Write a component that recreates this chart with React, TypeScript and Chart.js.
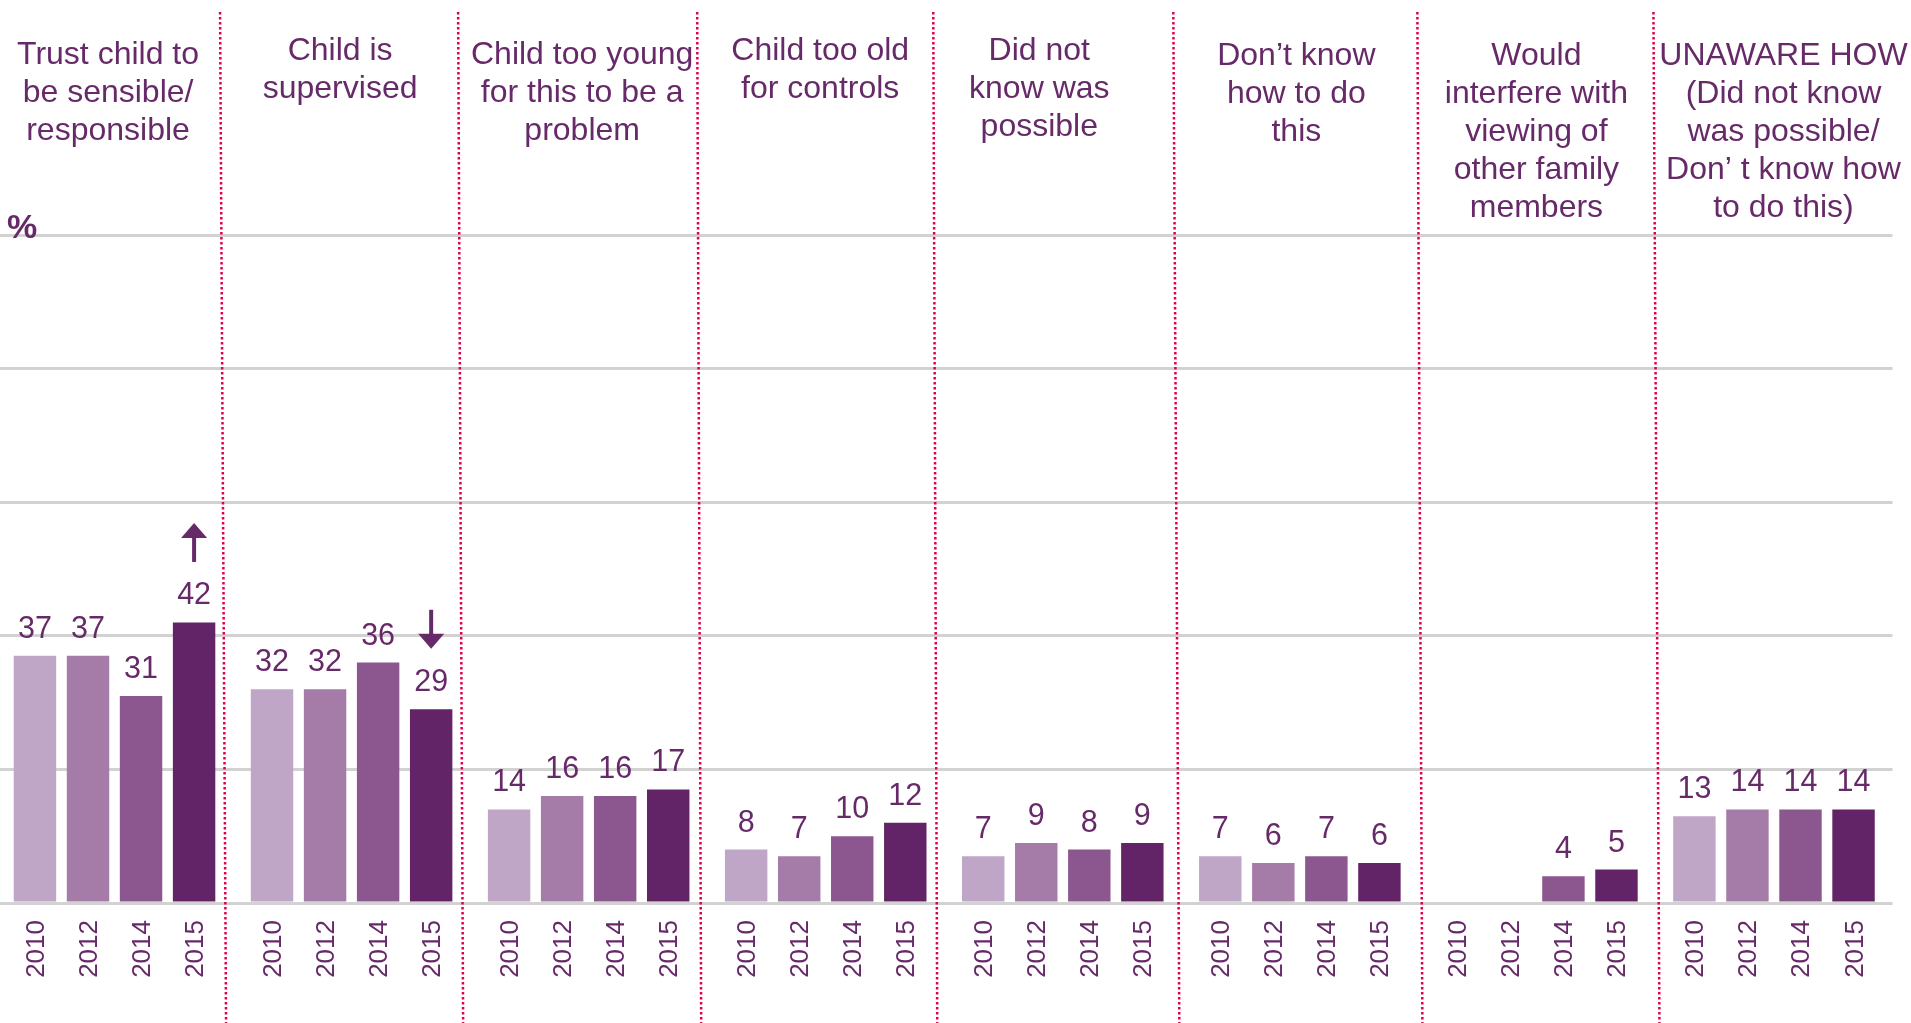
import React, { useEffect, useRef } from "react";
import { Chart, registerables } from "chart.js";

Chart.register(...registerables);

// ---- data ----
const categoryLines: string[][] = [
  ["Trust child to", "be sensible/", "responsible"],
  ["Child is", "supervised"],
  ["Child too young", "for this to be a", "problem"],
  ["Child too old", "for controls"],
  ["Did not", "know was", "possible"],
  ["Don\u2019t know", "how to do", "this"],
  ["Would", "interfere with", "viewing of", "other family", "members"],
  ["UNAWARE HOW", "(Did not know", "was possible/", "Don\u2019 t know how", "to do this)"],
];
const years = ["2010", "2012", "2014", "2015"];
const values2010: (number | null)[] = [37, 32, 14, 8, 7, 7, null, 13];
const values2012: (number | null)[] = [37, 32, 16, 7, 9, 6, null, 14];
const values2014: (number | null)[] = [31, 36, 16, 10, 8, 7, 4, 14];
const values2015: (number | null)[] = [42, 29, 17, 12, 9, 6, 5, 14];
const trend2015: (string | null)[] = ["up", "down", null, null, null, null, null, null];
const yMin = 0;
const yMax = 100;
const yStep = 20;
const unitLabel = "%";

// ---- styles / layout ----
const FONT = '"Liberation Sans", Arial, Helvetica, sans-serif';
const TEXT = "#672A69";
const barColors = ["#C0A6C6", "#A57BA8", "#8C578F", "#622466"];
const GRID = "#D2D2D2";
const DIVIDER = "#E0004D";
const labelShift = [-6.5, -11.5, -6.5, -5.5, -23.5, -3.5, -0.5, 9.5];
const labelTopBaseline = [64, 60, 64, 60, 60, 65, 65, 65];
const dividerTopShift = [-13, -12, -10, -11, -8, -1, -2];
const dividerBottomShift = [-7, -7, -6, -7, -2, 4, 4];

const overlay = {
  id: "overlay",
  afterDatasetsDraw(chart: any) {
    const ctx = chart.ctx as CanvasRenderingContext2D;
    const xs = chart.scales.x;
    const H = chart.height;
    const catW = xs.getPixelForValue(1) - xs.getPixelForValue(0);
    ctx.save();

    // dividers
    ctx.strokeStyle = DIVIDER;
    ctx.lineWidth = 2.5;
    ctx.setLineDash([2.5, 2.5]);
    for (let k = 0; k < categoryLines.length - 1; k++) {
      const b = xs.getPixelForValue(k) + catW / 2;
      ctx.beginPath();
      ctx.moveTo(b + dividerTopShift[k], 12);
      ctx.lineTo(b + dividerBottomShift[k], H);
      ctx.stroke();
    }
    ctx.setLineDash([]);

    // group labels
    ctx.fillStyle = TEXT;
    ctx.font = `32px ${FONT}`;
    ctx.textAlign = "center";
    ctx.textBaseline = "alphabetic";
    categoryLines.forEach((lines, k) => {
      const cx = xs.getPixelForValue(k) + labelShift[k];
      lines.forEach((ln, j) => ctx.fillText(ln, cx, labelTopBaseline[k] + j * 38));
    });

    // value labels, year labels, arrows
    chart.data.datasets.forEach((ds: any, di: number) => {
      const meta = chart.getDatasetMeta(di);
      meta.data.forEach((bar: any, i: number) => {
        const v = ds.data[i];
        ctx.save();
        ctx.translate(bar.x + 9, 920);
        ctx.rotate(-Math.PI / 2);
        ctx.font = `26px ${FONT}`;
        ctx.textAlign = "right";
        ctx.textBaseline = "alphabetic";
        ctx.fillStyle = TEXT;
        ctx.fillText(years[di], 0, 0);
        ctx.restore();
        if (v === null || v === undefined) return;
        ctx.font = `30.5px ${FONT}`;
        ctx.textAlign = "center";
        ctx.textBaseline = "alphabetic";
        ctx.fillStyle = TEXT;
        const base = bar.y - 18;
        ctx.fillText(String(v), bar.x, base);
        if (di === 3 && trend2015[i]) {
          const near = base - 21.5 - 21;
          const far = near - 39;
          const headH = 15;
          const headW = 13;
          if (trend2015[i] === "up") {
            ctx.fillRect(bar.x - 2, far + headH - 1, 4, near - far - headH + 1);
            ctx.beginPath();
            ctx.moveTo(bar.x, far);
            ctx.lineTo(bar.x + headW, far + headH);
            ctx.lineTo(bar.x - headW, far + headH);
            ctx.closePath();
            ctx.fill();
          } else {
            ctx.fillRect(bar.x - 2, far, 4, near - far - headH + 1);
            ctx.beginPath();
            ctx.moveTo(bar.x, near);
            ctx.lineTo(bar.x + headW, near - headH);
            ctx.lineTo(bar.x - headW, near - headH);
            ctx.closePath();
            ctx.fill();
          }
        }
      });
    });

    // unit label
    ctx.font = `bold 34px ${FONT}`;
    ctx.textAlign = "left";
    ctx.textBaseline = "alphabetic";
    ctx.fillStyle = TEXT;
    ctx.fillText(unitLabel, 11, 238);

    ctx.restore();
  },
};

export default function App() {
  const ref = useRef<HTMLCanvasElement | null>(null);
  useEffect(() => {
    document.body.style.margin = "0";
    const canvas = ref.current;
    if (!canvas) return;
    const series = [values2010, values2012, values2014, values2015];
    const chart = new Chart(canvas, {
      type: "bar",
      data: {
        labels: categoryLines.map((l) => l.join(" ")),
        datasets: series.map((d, i) => ({
          label: years[i],
          data: d,
          backgroundColor: barColors[i],
          borderWidth: 0,
          categoryPercentage: 0.895,
          barPercentage: 0.8,
        })),
      },
      options: {
        animation: false,
        responsive: false,
        devicePixelRatio: 1,
        layout: { padding: { top: 235, bottom: 120, left: 0, right: 18.5 } },
        plugins: { legend: { display: false }, tooltip: { enabled: false } },
        scales: {
          x: { display: false, grid: { display: false } },
          y: {
            min: yMin,
            max: yMax,
            ticks: { display: false, stepSize: yStep },
            grid: { color: GRID, lineWidth: 3, drawTicks: false },
            border: { display: false },
          },
        },
      },
      plugins: [overlay],
    });
    return () => chart.destroy();
  }, []);
  return (
    <div style={{ position: "relative", width: 1911, height: 1023, overflow: "hidden", background: "#fff" }}>
      <canvas
        ref={ref}
        width={1915}
        height={1023}
        style={{ position: "absolute", left: -4, top: 0, width: 1915, height: 1023 }}
      />
    </div>
  );
}
